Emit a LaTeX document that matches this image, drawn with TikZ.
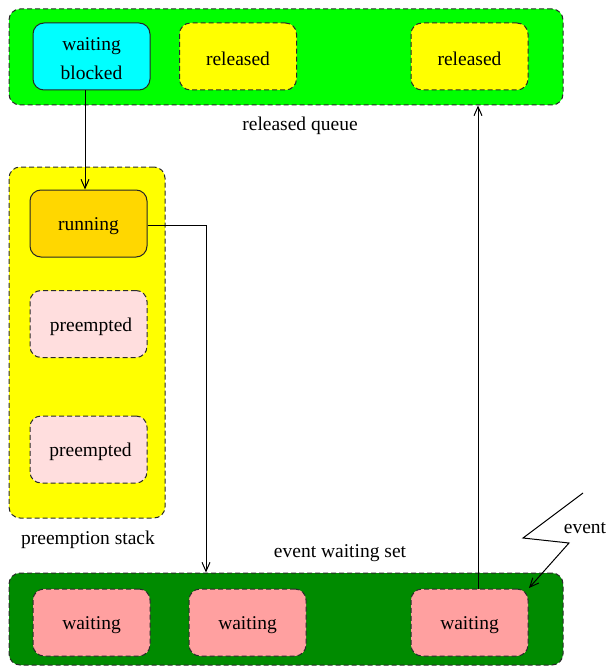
\documentclass[tikz,border=0pt]{standalone}
\usepackage{fontspec}
\setmainfont{Liberation Serif}
\usetikzlibrary{arrows.meta}
\definecolor{qgreen}{HTML}{00FF00}
\definecolor{qcyan}{HTML}{00FFFF}
\definecolor{qyellow}{HTML}{FFFF00}
\definecolor{qgold}{HTML}{FFD700}
\definecolor{qpink}{HTML}{FFDEDE}
\definecolor{qrose}{HTML}{FFA0A0}
\definecolor{qdark}{HTML}{008B00}
\definecolor{qline}{HTML}{2A2A2A}
\tikzset{
  x=1pt, y=-1pt,
  every node/.style={font=\fontsize{19.5}{29}\selectfont, inner sep=0pt},
  container/.style={draw=qline, dash pattern=on 5pt off 3pt, line width=1pt, rounded corners=11pt},
  taskbox/.style={minimum width=117pt, minimum height=67pt, rounded corners=11pt, line width=1pt},
  dashbox/.style={taskbox, draw=qline, dash pattern=on 5pt off 3pt},
  solidbox/.style={taskbox, draw=black!85},
  txt/.style={label={[yshift=-2.5pt, align=center]center:#1}},
  arr/.style={line width=1pt, -{Straight Barb[length=9pt,width=8pt]}},
  lbl/.style={}
}
\begin{document}
\begin{tikzpicture}
\useasboundingbox (0,0) rectangle (608,666);
% containers
\node[container, fill=qgreen, minimum width=554pt, minimum height=96pt] (top) at (286,57) {};
\node[container, fill=qyellow, minimum width=156pt, minimum height=351pt] (stack) at (87,342.5) {};
\node[container, fill=qdark, minimum width=554pt, minimum height=92pt] (bot) at (286,619) {};
% top boxes
\node[solidbox, fill=qcyan, txt={waiting\\blocked}] (blk) at (91.5,56.5) {};
\node[dashbox, fill=qyellow, txt=released] (rel1) at (238,56.5) {};
\node[dashbox, fill=qyellow, txt=released] (rel2) at (469.5,56.5) {};
% stack boxes
\node[solidbox, fill=qgold, txt=running] (run) at (88.5,223.5) {};
\node[dashbox, fill=qpink, txt={\hspace*{5pt}preempted}] (pre1) at (88.5,324) {};
\node[dashbox, fill=qpink, txt={\hspace*{4pt}preempted}] (pre2) at (88.5,449.5) {};
% bottom boxes
\node[dashbox, fill=qrose, txt=waiting] (w1) at (91.5,622.5) {};
\node[dashbox, fill=qrose, txt=waiting] (w2) at (247.5,622.5) {};
\node[dashbox, fill=qrose, txt=waiting] (w3) at (469.5,622.5) {};
% labels
\node[lbl] (lq) at (300,126) {released queue};
\node[lbl] (ls) at (88,540) {preemption stack};
\node[lbl] (lw) at (340,553) {event waiting set};
\node[lbl] (le) at (585,528) {event};
% arrows
\draw[arr] ([xshift=-6.5pt]blk.south) -- ([xshift=-3.5pt]run.north);
\coordinate (k) at (206,0);
\coordinate (r0) at ([yshift=-2pt]run.east);
\draw[arr] (r0) -| (bot.north -| k);
\coordinate (a3) at ([xshift=8.5pt]w3.north);
\draw[arr] (a3) -- (a3 |- top.south);
\coordinate (e0) at (583,493);
\coordinate (e1) at (523,538);
\coordinate (e2) at (569,543);
\coordinate (e3) at (529,588);
\draw[arr] (e0) -- (e1) -- (e2) -- (e3);
\end{tikzpicture}
\end{document}
